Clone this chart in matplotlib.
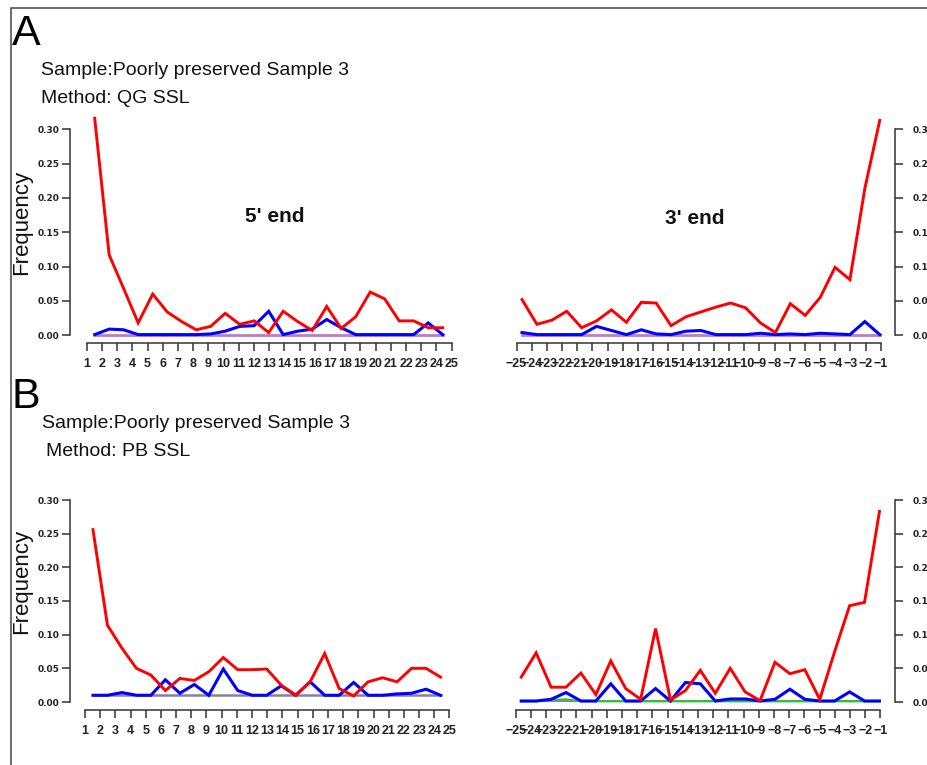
import numpy as np
import matplotlib
matplotlib.use("Agg")
import matplotlib.pyplot as plt
from matplotlib.patches import Rectangle

# ---------------- data ----------------
pos5 = list(range(1, 26))
pos3 = list(range(-25, 0))
tick5_labels = [str(v) for v in pos5]
tick3_labels = ["\u2212" + str(-v) for v in pos3]
ytick_vals = [0.00, 0.05, 0.10, 0.15, 0.20, 0.25, 0.30]
ytick_labels = ["0.00", "0.05", "0.10", "0.15", "0.20", "0.25", "0.30"]

# Panel A (QG SSL)
a5_ct = [0.316, 0.117, 0.068, 0.018, 0.060, 0.034, 0.020, 0.008, 0.013, 0.032, 0.016, 0.021, 0.004,
         0.035, 0.020, 0.007, 0.042, 0.010, 0.027, 0.063, 0.053, 0.021, 0.021, 0.011, 0.011]
a5_ga = [0.001, 0.009, 0.008, 0.001, 0.001, 0.001, 0.001, 0.001, 0.002, 0.006, 0.013, 0.014, 0.035,
         0.001, 0.006, 0.009, 0.023, 0.011, 0.001, 0.001, 0.001, 0.001, 0.001, 0.018, 0.001]
a5_other = [0.0005] * 25
a3_ct = [0.052, 0.016, 0.022, 0.035, 0.011, 0.021, 0.037, 0.019, 0.048, 0.047, 0.014, 0.027, 0.034,
         0.041, 0.047, 0.040, 0.018, 0.004, 0.046, 0.029, 0.055, 0.099, 0.081, 0.214, 0.313]
a3_ga = [0.004, 0.001, 0.001, 0.001, 0.001, 0.013, 0.007, 0.001, 0.008, 0.002, 0.001, 0.006, 0.007,
         0.001, 0.001, 0.001, 0.003, 0.001, 0.002, 0.001, 0.003, 0.002, 0.001, 0.020, 0.001]
a3_other = [0.0005] * 25

# Panel B (PB SSL)
b5_ct = [0.256, 0.114, 0.080, 0.050, 0.040, 0.017, 0.035, 0.032, 0.045, 0.066, 0.048, 0.048, 0.049,
         0.025, 0.010, 0.030, 0.072, 0.020, 0.009, 0.030, 0.036, 0.030, 0.050, 0.050, 0.037]
b5_ga = [0.010, 0.010, 0.014, 0.010, 0.010, 0.033, 0.013, 0.026, 0.010, 0.049, 0.017, 0.010, 0.010,
         0.024, 0.010, 0.030, 0.010, 0.010, 0.029, 0.010, 0.010, 0.012, 0.013, 0.019, 0.010]
b5_other = [0.0099] * 25
b3_ct = [0.037, 0.073, 0.022, 0.022, 0.043, 0.011, 0.061, 0.020, 0.004, 0.109, 0.003, 0.017, 0.047,
         0.013, 0.050, 0.015, 0.002, 0.059, 0.042, 0.048, 0.004, 0.075, 0.143, 0.148, 0.283]
b3_ga = [0.0015, 0.0015, 0.004, 0.014, 0.0015, 0.0015, 0.027, 0.0015, 0.0015, 0.020, 0.0015, 0.029, 0.027,
         0.0015, 0.0045, 0.0045, 0.0015, 0.004, 0.019, 0.004, 0.0015, 0.0015, 0.015, 0.0015, 0.0015]
b3_other = [0.001] * 25
b3_green = [0.001, 0.001, 0.003, 0.004, 0.001, 0.001, 0.001, 0.001, 0.001, 0.001, 0.001, 0.001, 0.001,
            0.001, 0.001, 0.001, 0.001, 0.001, 0.001, 0.001, 0.001, 0.001, 0.001, 0.001, 0.001]

# ---------------- figure ----------------
W, H = 928, 765
fig = plt.figure(figsize=(W / 100, H / 100), dpi=100)
fig.patch.set_facecolor("white")

SANS = ["Liberation Sans", "DejaVu Sans"]
NARROW = ["Liberation Sans Narrow", "Liberation Sans", "DejaVu Sans"]
AXC = "#333333"


def fx(x):
    return x / W


def fy(y):
    return 1 - y / H


def make_axes(x0, x1, ytop, ybot):
    return fig.add_axes([fx(x0), fy(ybot), fx(x1) - fx(x0), fy(ytop) - fy(ybot)])


def style_panel(ax, positions, labels, side, outward_px, data_xlim, series):
    ax.set_xlim(positions[0], positions[-1])
    ax.set_ylim(0, 0.30)
    ax.patch.set_alpha(0)
    for s in ["top", "right", "left", "bottom"]:
        ax.spines[s].set_visible(False)
    ax.spines["bottom"].set_visible(True)
    ax.spines["bottom"].set_bounds(positions[0], positions[-1])
    ax.spines["bottom"].set_position(("outward", 8 * 72 / 100))
    ax.spines["bottom"].set_color(AXC)
    ax.spines["bottom"].set_linewidth(1.1)
    ax.set_xticks(positions)
    ax.set_xticklabels(labels, family=NARROW, fontweight="bold", fontsize=9, color="#222222")
    ax.tick_params(axis="x", direction="out", length=6, width=1.1, color=AXC, pad=4.5)
    ysp = ax.spines[side]
    ysp.set_visible(True)
    ysp.set_bounds(0, 0.30)
    ysp.set_position(("outward", outward_px * 72 / 100))
    ysp.set_color(AXC)
    ysp.set_linewidth(1.1)
    if side == "right":
        ax.yaxis.tick_right()
        ypad = 7
    else:
        ax.yaxis.tick_left()
        ypad = 2
    ax.set_yticks(ytick_vals)
    ax.set_yticklabels(ytick_labels, family=["DejaVu Sans"], fontweight="bold", fontsize=6.5,
                       color="#222222")
    ax.tick_params(axis="y", direction="out", length=5.5, width=1.1, color=AXC, pad=ypad)

    dax = ax.twiny()
    dax.set_xlim(*data_xlim)
    dax.set_ylim(0, 0.30)
    dax.axis("off")
    idx = np.arange(1, 26)
    for vals, col, lw in series:
        dax.plot(idx, vals, color=col, lw=lw, clip_on=False, solid_joinstyle="miter")
    return ax


LX5 = (0.45, 25.62)
LX3 = (0.63, 25.07)

# Panel A
axA5 = make_axes(86.7, 451.7, 129.3, 335.3)
style_panel(axA5, pos5, tick5_labels, "left", 16.7, LX5,
            [(a5_other, "#c27ac2", 2.0), (a5_ga, "#0000ff", 2.2), (a5_ct, "#ff0000", 2.1)])
axA3 = make_axes(516.5, 880.8, 129.3, 335.3)
style_panel(axA3, pos3, tick3_labels, "right", 14.2, LX3,
            [(a3_other, "#c27ac2", 2.0), (a3_ga, "#0000ff", 2.2), (a3_ct, "#ff0000", 2.1)])

# Panel B
axB5 = make_axes(85.0, 449.5, 500.0, 702.0)
style_panel(axB5, pos5, tick5_labels, "left", 15.0, LX5,
            [(b5_other, "#8a7f9a", 1.8), (b5_ga, "#0000ff", 2.2), (b5_ct, "#ff0000", 2.1)])
axB3 = make_axes(515.7, 880.5, 500.0, 702.0)
style_panel(axB3, pos3, tick3_labels, "right", 14.5, LX3,
            [(b3_other, "#a070d0", 1.5), (b3_green, "#22cc22", 1.5), (b3_ga, "#0000ff", 2.2),
             (b3_ct, "#ff0000", 2.1)])

# ---------------- text ----------------
fig.text(fx(12), fy(34), "A", family=SANS, fontsize=31, va="center", ha="left", color="black")
fig.text(fx(41), fy(70.5), "Sample:Poorly preserved Sample 3", family=SANS, fontsize=14,
         va="center", ha="left", color="#111111")
fig.text(fx(41), fy(98.5), "Method: QG SSL", family=SANS, fontsize=14, va="center", ha="left",
         color="#111111")
fig.text(fx(12), fy(397), "B", family=SANS, fontsize=31, va="center", ha="left", color="black")
fig.text(fx(42), fy(423), "Sample:Poorly preserved Sample 3", family=SANS, fontsize=14,
         va="center", ha="left", color="#111111")
fig.text(fx(46), fy(452), "Method: PB SSL", family=SANS, fontsize=14, va="center", ha="left",
         color="#111111")

fig.text(fx(22), fy(222), "Frequency", family=SANS, fontsize=16, rotation=90, va="center",
         ha="center", color="#111111")
fig.text(fx(22), fy(581), "Frequency", family=SANS, fontsize=16, rotation=90, va="center",
         ha="center", color="#111111")

fig.text(fx(275), fy(217), "5' end", family=SANS, fontsize=15, fontweight="bold", va="center",
         ha="center", color="#111111")
fig.text(fx(695), fy(219), "3' end", family=SANS, fontsize=15, fontweight="bold", va="center",
         ha="center", color="#111111")

# outer frame (left and top edges visible)
fig.add_artist(Rectangle((fx(11), -0.5), 2.0, fy(8.3) + 0.5, transform=fig.transFigure,
                         fill=False, edgecolor="#444444", lw=1.1))

fig.savefig("out.png", dpi=100)
